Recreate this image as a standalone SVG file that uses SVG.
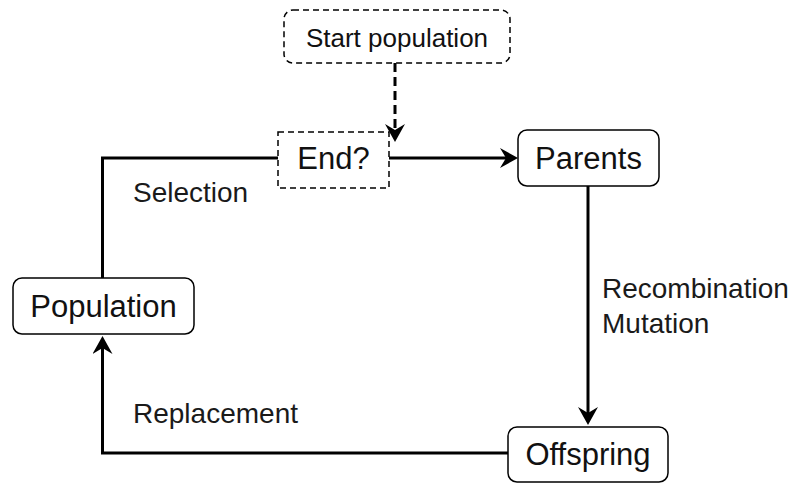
<svg xmlns="http://www.w3.org/2000/svg" width="798" height="483" viewBox="0 0 798 483">
  <style>
    .box { fill: #fff; stroke: #000; stroke-width: 1.5; }
    .dashed { stroke-dasharray: 6 4; }
    .node { font-family: "Liberation Sans", Arial, sans-serif; font-size: 31px; fill: #111; text-anchor: middle; }
    .start { font-size: 26px; }
    .label { font-family: "Liberation Sans", Arial, sans-serif; font-size: 28px; fill: #1a1a1a; }
    .conn { fill: none; stroke: #000; stroke-width: 3; }
    .conn-dashed { stroke-dasharray: 9 5; }
  </style>
  <defs>
    <marker id="arrow" viewBox="0 0 18 20" markerUnits="userSpaceOnUse" markerWidth="18" markerHeight="20" refX="6" refY="10" orient="auto">
      <path d="M18,10 L0,0 L6,10 L0,20 Z" fill="#000"/>
    </marker>
  </defs>
  <rect width="798" height="483" fill="#fff"/>

  <g id="connectors">
    <path class="conn conn-dashed" d="M395,63 L395,130" marker-end="url(#arrow)"/>
    <path class="conn" d="M389,158 L506,158" marker-end="url(#arrow)"/>
    <path class="conn" d="M588,186 L588,413" marker-end="url(#arrow)"/>
    <path class="conn" d="M508,453 L102.5,453 L102.5,348" marker-end="url(#arrow)"/>
    <path class="conn" d="M102.5,278 L102.5,158 L278,158"/>
  </g>

  <g id="start">
    <rect class="box dashed" x="284" y="10" width="226" height="53" rx="9"/>
    <text class="node start" x="397" y="47">Start population</text>
  </g>
  <g id="end">
    <rect class="box dashed" x="278" y="132" width="111" height="56"/>
    <text class="node" x="333.5" y="169">End?</text>
  </g>
  <g id="parents">
    <rect class="box" x="518" y="130" width="141" height="56" rx="9"/>
    <text class="node" x="588.5" y="169">Parents</text>
  </g>
  <g id="offspring">
    <rect class="box" x="508" y="427" width="160" height="55" rx="9"/>
    <text class="node" x="588" y="465">Offspring</text>
  </g>
  <g id="population">
    <rect class="box" x="13" y="278" width="181" height="56" rx="9"/>
    <text class="node" x="103.5" y="317">Population</text>
  </g>

  <g id="labels">
    <text class="label" x="133" y="202">Selection</text>
    <text class="label" x="602" y="298">Recombination</text>
    <text class="label" x="602" y="333">Mutation</text>
    <text class="label" x="133" y="423">Replacement</text>
  </g>
</svg>
